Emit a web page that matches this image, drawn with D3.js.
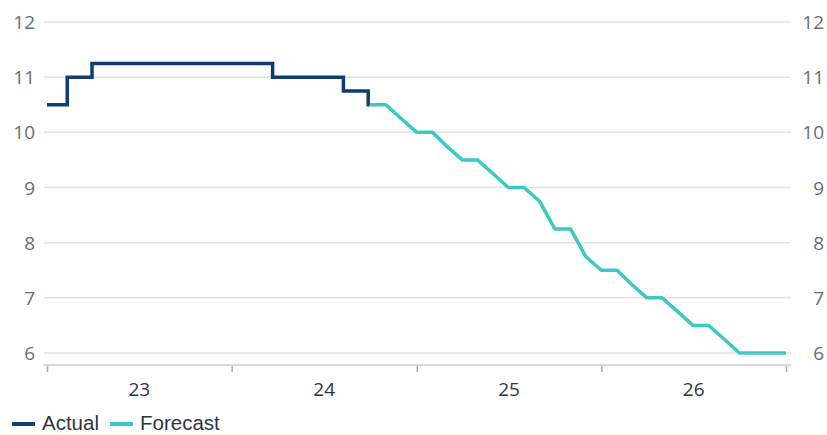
<!DOCTYPE html>
<html>
<head>
<meta charset="utf-8">
<script src="https://cdn.jsdelivr.net/npm/d3@7"></script>
<style>
  body { margin: 0; background: #fff; }
  svg { display: block; }
</style>
</head>
<body>
<svg id="chart" width="827" height="435"></svg>
<script>
// policy rate, actual steps (date of change, level)
const actualDates = ["2023-01-01", "2023-02-10", "2023-03-31", "2024-03-22", "2024-08-09", "2024-09-27", "2024-09-30"]
const actualValues = [10.5, 11.0, 11.25, 11.0, 10.75, 10.5, 10.5]

// forecast, monthly from Oct 2024
const forecastStart = "2024-10-01"
const forecastValues = [10.5, 10.5, 10.25, 10.0, 10.0, 9.75, 9.5, 9.5, 9.25, 9.0, 9.0, 8.75, 8.25, 8.25,
  7.75, 7.5, 7.5, 7.25, 7.0, 7.0, 6.75, 6.5, 6.5, 6.25, 6.0, 6.0, 6.0, 6.0]

const yTicks = [6, 7, 8, 9, 10, 11, 12]
const yearLabels = ["23", "24", "25", "26"]
const seriesNames = ["Actual", "Forecast"]
const colors = ["#0f3d70", "#3ec8c3"]

const svg = d3.select("#chart")
const parse = d3.timeParse("%Y-%m-%d")

const x = d3.scaleTime().domain([new Date(2023, 0, 1), new Date(2027, 0, 1)]).range([47, 786])
const y = d3.scaleLinear().domain([6, 12]).range([353, 22])

const actual = actualDates.map((d, i) => ({date: parse(d), v: actualValues[i]}))
const f0 = parse(forecastStart)
const forecast = forecastValues.map((v, i) => ({date: d3.timeMonth.offset(f0, i), v: v}))

// gridlines
svg.append("g").selectAll("line").data(yTicks).enter().append("line")
  .attr("x1", 44).attr("x2", 791)
  .attr("y1", d => y(d)).attr("y2", d => y(d))
  .attr("stroke", "#e3e3e3").attr("stroke-width", 1.5)

// y labels both sides
const labFont = "'Open Sans', sans-serif"
svg.append("g").selectAll("text").data(yTicks).enter().append("text")
  .attr("x", 35).attr("y", d => y(d) + 7)
  .attr("text-anchor", "end")
  .style("font-family", labFont).style("font-size", "19px").style("fill", "#6d6d6d")
  .text(d => d)
svg.append("g").selectAll("text").data(yTicks).enter().append("text")
  .attr("x", 824).attr("y", d => y(d) + 7)
  .attr("text-anchor", "end")
  .style("font-family", labFont).style("font-size", "19px").style("fill", "#6d6d6d")
  .text(d => d)

// x axis
const xAxis = d3.axisBottom(x).ticks(d3.timeYear.every(1)).tickSize(7).tickFormat("")
const gx = svg.append("g").attr("transform", "translate(0,365)").call(xAxis)
gx.select(".domain").attr("stroke", "#d9d9d9").attr("stroke-width", 2).attr("d", "M43,0H791")
gx.selectAll(".tick line").attr("stroke", "#aaa").attr("stroke-width", 1.5).attr("y1", 1)

svg.append("g").selectAll("text").data(yearLabels).enter().append("text")
  .attr("x", (d, i) => (x(new Date(2023 + i, 0, 1)) + x(new Date(2024 + i, 0, 1))) / 2)
  .attr("y", 396)
  .attr("text-anchor", "middle")
  .style("font-family", labFont).style("font-size", "19px").style("fill", "#2f3443")
  .text(d => d)

// lines
const stepLine = d3.line().x(d => x(d.date)).y(d => y(d.v)).curve(d3.curveStepAfter)
const line = d3.line().x(d => x(d.date)).y(d => y(d.v))

svg.append("path").datum(forecast)
  .attr("fill", "none").attr("stroke", colors[1]).attr("stroke-width", 3.5)
  .attr("stroke-linejoin", "round")
  .attr("d", line)

svg.append("path").datum(actual)
  .attr("fill", "none").attr("stroke", colors[0]).attr("stroke-width", 3.5)
  .attr("d", stepLine)

// legend
const legend = svg.append("g").attr("class", "legend")
const legX = [12, 110]
seriesNames.forEach((s, i) => {
  legend.append("line").attr("x1", legX[i]).attr("x2", legX[i] + 23)
    .attr("y1", 424).attr("y2", 424)
    .attr("stroke", colors[i]).attr("stroke-width", 4)
  legend.append("text").attr("x", legX[i] + 30).attr("y", 430)
    .style("font-family", "'Liberation Sans', Arial, sans-serif").style("font-size", "20.5px").style("fill", "#2f3443")
    .text(s)
})
</script>
</body>
</html>
